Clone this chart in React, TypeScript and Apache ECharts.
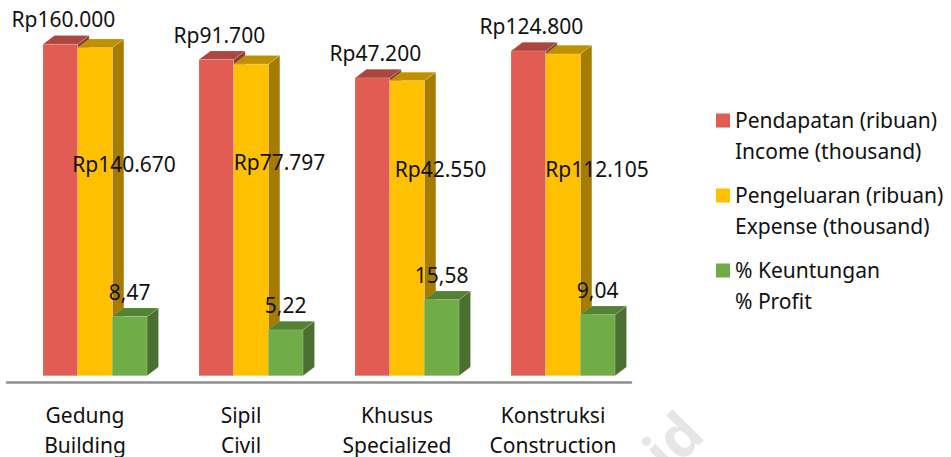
import React, { useEffect, useRef } from "react";
import * as echarts from "echarts";

const categories = ["Gedung\nBuilding", "Sipil\nCivil", "Khusus\nSpecialized", "Konstruksi\nConstruction"];
const income = [160000, 91700, 47200, 124800];
const expense = [140670, 77797, 42550, 112105];
const profit = [8.47, 5.22, 15.58, 9.04];
const seriesNames = ["Pendapatan (ribuan)\nIncome (thousand)", "Pengeluaran (ribuan)\nExpense (thousand)", "% Keuntungan\n% Profit"];

const FONT = '"Noto Sans", "Open Sans", sans-serif';
const FONT_SIZE = 21;
const BAR_W = 34.67;
const DX = 11.5;
const DY = 8.7;
const rp = (v: number) => "Rp" + String(v).replace(/\B(?=(\d{3})+$)/g, ".");
const pct = (v: number) => v.toFixed(2).replace(".", ",");

function barSeries(
  name: string,
  values: number[],
  slot: number,
  colors: { front: string; top: string; side: string; edge: string },
  format: (v: number) => string,
  labelOffset: (i: number) => [number, number]
) {
  return {
    type: "custom",
    name,
    clip: false,
    encode: { x: 0, y: 1 },
    itemStyle: { color: colors.front },
    data: values.map((v, i) => [i, v]),
    renderItem: (_params: any, api: any) => {
      const i = api.value(0);
      const v = api.value(1);
      const p = api.coord([i, v]);
      const b = api.coord([i, 1]);
      const x0 = p[0] - 42 + slot * BAR_W;
      const x1 = x0 + BAR_W;
      const yt = p[1];
      const yb = b[1];
      const [ox, oy] = labelOffset(i);
      const edge = { stroke: colors.edge, lineWidth: 0.6 };
      return {
        type: "group",
        children: [
          {
            type: "polygon",
            shape: { points: [[x1, yt], [x1 + DX, yt - DY], [x1 + DX, yb - DY], [x1, yb]] },
            style: { fill: colors.side, ...edge },
          },
          {
            type: "polygon",
            shape: { points: [[x0, yt], [x0 + DX, yt - DY], [x1 + DX, yt - DY], [x1, yt]] },
            style: { fill: colors.top, ...edge },
          },
          {
            type: "rect",
            shape: { x: x0, y: yt, width: BAR_W, height: yb - yt },
            style: { fill: colors.front, ...edge },
          },
          {
            type: "text",
            z2: 100,
            style: {
              text: format(v),
              x: x0 + BAR_W / 2 + ox,
              y: yt + oy,
              align: "center",
              verticalAlign: "middle",
              fill: "#111",
              font: `${FONT_SIZE}px ${FONT}`,
            },
          },
        ],
      };
    },
  };
}

const expenseLabelOffset: [number, number][] = [[29, 116], [28.5, 98], [33.5, 88], [34, 115]];

export default function App() {
  const ref = useRef<HTMLDivElement>(null);
  useEffect(() => {
    const chart = echarts.init(ref.current!, null, { renderer: "svg" });
    chart.setOption({
      animation: false,
      backgroundColor: "#fff",
      grid: { left: 7, width: 624, top: 25.35, height: 350.35, containLabel: false, outerBoundsMode: "none" },
      xAxis: {
        type: "category",
        data: categories,
        offset: 6.6,
        axisLine: { show: true, lineStyle: { color: "#8f8f8f", width: 2.5 } },
        axisTick: { show: false },
        axisLabel: { color: "#111", fontFamily: FONT, fontSize: FONT_SIZE, lineHeight: 30, margin: 18, interval: 0 },
      },
      yAxis: { type: "log", logBase: 10, min: 1, max: 316228, show: false, splitLine: { show: false } },
      legend: {
        orient: "vertical",
        left: 716,
        top: 104,
        padding: 0,
        itemGap: 13,
        itemWidth: 14,
        itemHeight: 43,
        selectedMode: false,
        textStyle: { color: "#111", fontFamily: FONT, fontSize: FONT_SIZE, lineHeight: 31 },
        data: seriesNames.map((name) => ({ name, icon: "path://M0 0H14V14H0Z M0 43H14" })),
      },
      series: [
        barSeries(seriesNames[0], income, 0, { front: "#E15C52", top: "#AC4740", side: "#8F3B35", edge: "rgba(255,255,255,0.25)" }, rp, () => [3, -25]),
        barSeries(seriesNames[1], expense, 1, { front: "#FFC000", top: "#BF9000", side: "#A67C00", edge: "rgba(255,255,255,0.25)" }, rp, (i) => expenseLabelOffset[i]),
        barSeries(seriesNames[2], profit, 2, { front: "#70AD47", top: "#548235", side: "#4A6F2E", edge: "rgba(255,255,255,0.25)" }, pct, () => [0, -25]),
      ],
      graphic: [
        {
          type: "text",
          silent: true,
          z: -1,
          x: 673,
          y: 480,
          rotation: Math.PI / 4,
          style: { text: "id", fill: "#e6e6e6", font: `bold 58px ${FONT}`, align: "left", verticalAlign: "bottom" },
        },
      ],
    });
    return () => chart.dispose();
  }, []);
  return <div ref={ref} style={{ position: "fixed", left: 0, top: 0, width: 951, height: 457 }} />;
}
